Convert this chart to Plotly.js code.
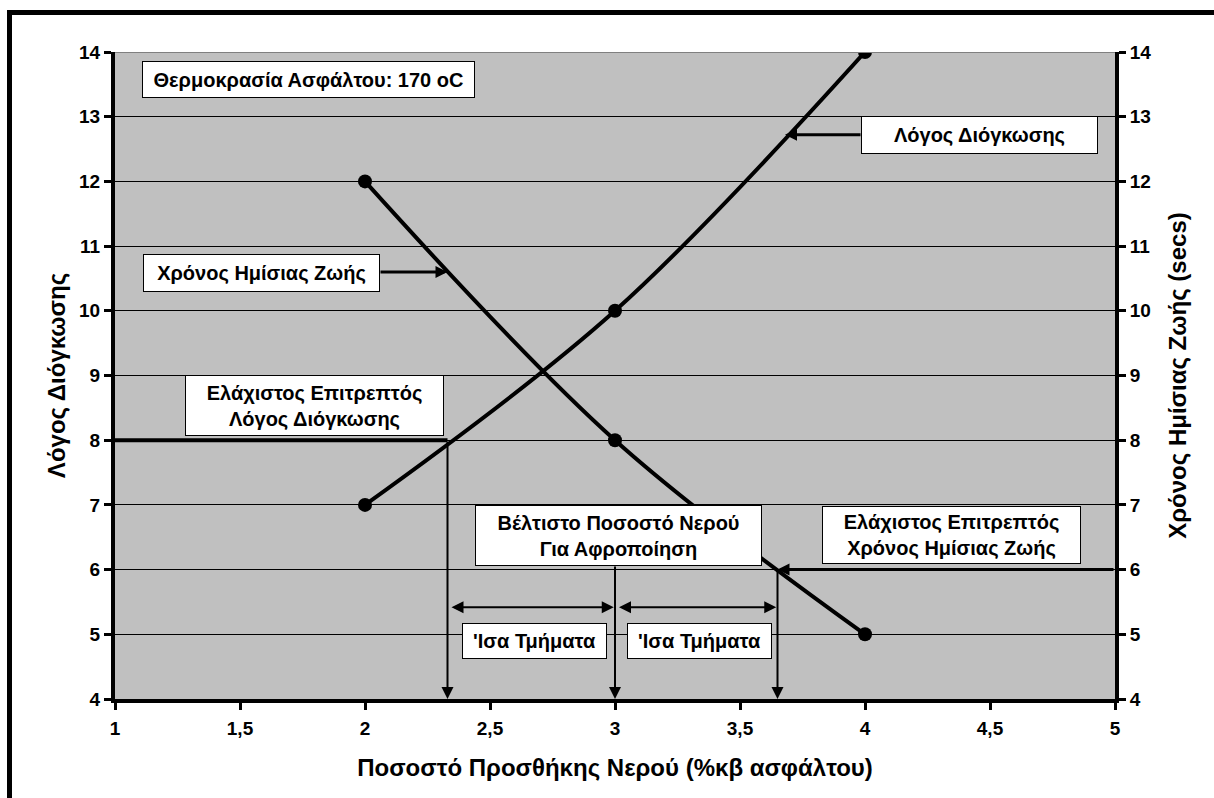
<!DOCTYPE html>
<html>
<head>
<meta charset="utf-8">
<script src="https://cdn.plot.ly/plotly-3.0.1.min.js"></script>
<style>
  html, body { margin: 0; padding: 0; background: #fff; overflow: hidden; }
  #chart { position: absolute; left: 0; top: 0; width: 1214px; height: 798px; }
  #frame { position: absolute; left: 7px; top: 10px; width: 1400px; height: 1000px;
           border-left: 5px solid #000; border-top: 5px solid #000; pointer-events: none; }
</style>
</head>
<body>
<div id="chart"></div>
<div id="frame"></div>
<script>
// ---- data ----
const waterPct = [2, 3, 4];                 // % water addition (by weight of bitumen)
const expansionRatio = [7, 10, 14];         // Λόγος Διόγκωσης
const halfLife = [12, 8, 5];                // Χρόνος Ημίσιας Ζωής (secs)

const xTickVals = [1, 1.5, 2, 2.5, 3, 3.5, 4, 4.5, 5];
const xTickText = ['1', '1,5', '2', '2,5', '3', '3,5', '4', '4,5', '5'];
const yTickVals = [4, 5, 6, 7, 8, 9, 10, 11, 12, 13, 14];

// design limits
const minRatio = 8;             // Ελάχιστος Επιτρεπτός Λόγος Διόγκωσης
const minHalfLife = 6;          // Ελάχιστος Επιτρεπτός Χρόνος Ημίσιας Ζωής
const waterAtMinRatio = 2.33;
const waterAtMinHalfLife = 3.65;
const optimumWater = 3;         // Βέλτιστο Ποσοστό Νερού
const equalSegLevel = 5.42;

const labels = {
  temp: 'Θερμοκρασία Ασφάλτου: 170 oC',
  ratio: 'Λόγος Διόγκωσης',
  half: 'Χρόνος Ημίσιας Ζωής',
  minRatio: 'Ελάχιστος Επιτρεπτός<br>Λόγος Διόγκωσης',
  optimum: 'Βέλτιστο Ποσοστό Νερού<br>Για Αφροποίηση',
  minHalf: 'Ελάχιστος Επιτρεπτός<br>Χρόνος Ημίσιας Ζωής',
  equal: "'Ισα Τμήματα",
  xTitle: 'Ποσοστό Προσθήκης Νερού (%κβ ασφάλτου)',
  yTitle: 'Λόγος Διόγκωσης',
  y2Title: 'Χρόνος Ημίσιας Ζωής (secs)'
};

// ---- styling ----
const FAM = 'Liberation Sans, Arial, sans-serif';
const tickFont = { family: FAM, size: 19, color: '#000', weight: 'bold' };
const titleFont = { family: FAM, size: 24, color: '#000', weight: 'bold' };
const boxFont = { family: FAM, size: 20, color: '#000', weight: 'bold' };

const traces = [
  {
    x: waterPct, y: expansionRatio, type: 'scatter', mode: 'lines+markers',
    line: { color: '#000', width: 4, shape: 'spline', smoothing: 1 },
    marker: { color: '#000', size: 14 }, yaxis: 'y', hoverinfo: 'skip'
  },
  {
    x: waterPct, y: halfLife, type: 'scatter', mode: 'lines+markers',
    line: { color: '#000', width: 4, shape: 'spline', smoothing: 1 },
    marker: { color: '#000', size: 14 }, yaxis: 'y2', hoverinfo: 'skip'
  }
];

function box(text, x, y, w, h) {
  return { text: text, x: x, y: y, xref: 'x', yref: 'y', showarrow: false,
           width: w, height: h, bgcolor: '#fff', bordercolor: '#000', borderwidth: 1,
           borderpad: 0, font: boxFont, align: 'center', xanchor: 'center', yanchor: 'middle' };
}
function arrow(x0, y0, x1, y1, width, both) {
  return { text: '', x: x1, y: y1, ax: x0, ay: y0, xref: 'x', yref: 'y', axref: 'x', ayref: 'y',
           showarrow: true, arrowhead: 2, arrowsize: 2.4 / width, arrowwidth: width, arrowcolor: '#000',
           arrowside: both ? 'end+start' : 'end', standoff: 0, startstandoff: 0 };
}

const annotations = [
  box(labels.temp, 1.774, 13.575, 331, 35),
  box(labels.ratio, 4.458, 12.717, 235, 36),
  box(labels.half, 1.586, 10.584, 235, 36),
  box(labels.minRatio, 1.798, 8.536, 257, 59),
  box(labels.optimum, 3.014, 6.527, 285, 59),
  box(labels.minHalf, 4.346, 6.535, 257, 56),
  box(labels.equal, 2.678, 4.896, 143, 34),
  box(labels.equal, 3.338, 4.896, 143, 34),
  // pointers to curves
  arrow(3.988, 12.72, 3.68, 12.72, 3),
  arrow(2.056, 10.6, 2.33, 10.6, 3),
  // vertical drops to the axis
  arrow(waterAtMinRatio, minRatio, waterAtMinRatio, 4, 2),
  arrow(optimumWater, 6.07, optimumWater, 4, 2),
  arrow(5, minHalfLife, waterAtMinHalfLife, minHalfLife, 3),
  arrow(waterAtMinHalfLife, minHalfLife, waterAtMinHalfLife, 4, 2),
  // equal segments
  arrow(waterAtMinRatio + 0.01, equalSegLevel, optimumWater - 0.005, equalSegLevel, 2, true),
  arrow(optimumWater + 0.01, equalSegLevel, waterAtMinHalfLife - 0.005, equalSegLevel, 2, true)
];

const shapes = [
  { type: 'line', xref: 'x', yref: 'y', x0: 1, x1: waterAtMinRatio, y0: minRatio, y1: minRatio,
    line: { color: '#000', width: 4 } },
  { type: 'line', xref: 'paper', yref: 'y', x0: 0, x1: 1, y0: 14, y1: 14,
    line: { color: '#808080', width: 2 } }
];

const axisCommon = {
  ticks: 'outside', ticklen: 7, tickwidth: 3, tickcolor: '#000',
  showline: true, linewidth: 4, linecolor: '#000', zeroline: false,
  tickfont: tickFont, fixedrange: true
};

const layout = {
  width: 1214, height: 798,
  margin: { l: 115, r: 99, t: 52, b: 99, pad: 0 },
  paper_bgcolor: '#fff', plot_bgcolor: '#C0C0C0',
  showlegend: false,
  xaxis: Object.assign({}, axisCommon, {
    range: [1, 5], tickmode: 'array', tickvals: xTickVals, ticktext: xTickText,
    showgrid: false, ticklabelstandoff: 2,
    title: { text: labels.xTitle, font: titleFont, standoff: 22 }
  }),
  yaxis: Object.assign({}, axisCommon, {
    range: [4, 14], tickmode: 'array', tickvals: yTickVals,
    showgrid: true, gridcolor: '#000', gridwidth: 1,
    title: { text: labels.yTitle, font: titleFont, standoff: 8 }
  }),
  yaxis2: Object.assign({}, axisCommon, {
    range: [4, 14], tickmode: 'array', tickvals: yTickVals, overlaying: 'y', side: 'right',
    showgrid: false,
    title: { text: labels.y2Title, font: titleFont, standoff: 20 }
  }),
  annotations: annotations,
  shapes: shapes
};

Plotly.newPlot('chart', traces, layout, { staticPlot: true, displayModeBar: false });
</script>
</body>
</html>
